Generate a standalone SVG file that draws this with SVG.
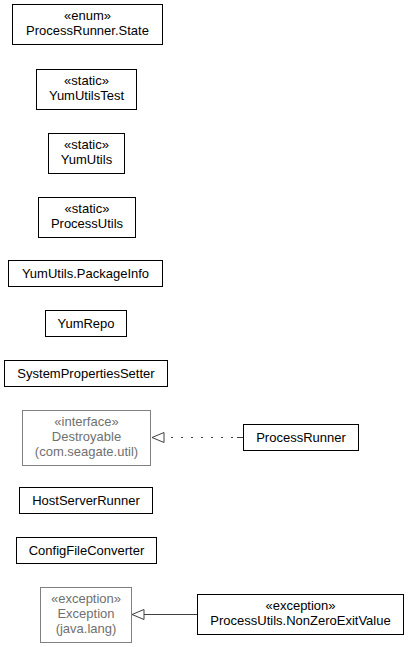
<svg xmlns="http://www.w3.org/2000/svg" width="411" height="647" viewBox="0 0 411 647">
<style>
.n rect{fill:#fff;stroke:#000;stroke-width:1}
.g rect{fill:#fff;stroke:#808080;stroke-width:1}
text{font-family:"Liberation Sans",Arial,sans-serif;font-size:13px;text-anchor:middle;fill:#000}
.g text{fill:#707070}
.c line{stroke:#404040;stroke-width:1;fill:none}
</style>
<defs>
<marker id="tri" markerWidth="14" markerHeight="12" refX="13" refY="6" orient="auto" markerUnits="userSpaceOnUse">
<path d="M1,1 L13,6 L1,11 Z" fill="#fff" stroke="#404040" stroke-width="1"/>
</marker>
</defs>
<g id="ProcessRunner.State" class="n"><rect x="12.5" y="4.5" width="150" height="40"/><text x="87.5" y="20">«enum»</text><text x="87.5" y="35">ProcessRunner.State</text></g>
<g id="YumUtilsTest" class="n"><rect x="36.5" y="69.5" width="100" height="40"/><text x="86.5" y="85">«static»</text><text x="86.5" y="100">YumUtilsTest</text></g>
<g id="YumUtils" class="n"><rect x="48.5" y="133.5" width="76" height="40"/><text x="86.5" y="149">«static»</text><text x="86.5" y="164">YumUtils</text></g>
<g id="ProcessUtils" class="n"><rect x="38.5" y="197.5" width="97" height="40"/><text x="87" y="213">«static»</text><text x="87" y="228">ProcessUtils</text></g>
<g id="YumUtils.PackageInfo" class="n"><rect x="8.5" y="260.5" width="154" height="26"/><text x="85.5" y="278">YumUtils.PackageInfo</text></g>
<g id="YumRepo" class="n"><rect x="45.5" y="310.5" width="81" height="26"/><text x="86" y="328">YumRepo</text></g>
<g id="SystemPropertiesSetter" class="n"><rect x="4.5" y="360.5" width="163" height="26"/><text x="86" y="378">SystemPropertiesSetter</text></g>
<g id="Destroyable" class="g"><rect x="22.5" y="410.5" width="128" height="55"/><text x="86.5" y="425.5">«interface»</text><text x="86.5" y="440.5">Destroyable</text><text x="86.5" y="455.5">(com.seagate.util)</text></g>
<g id="ProcessRunner" class="n"><rect x="243.5" y="424.5" width="115" height="26"/><text x="301" y="442">ProcessRunner</text></g>
<g id="HostServerRunner" class="n"><rect x="19.5" y="487.5" width="133" height="26"/><text x="86" y="505">HostServerRunner</text></g>
<g id="ConfigFileConverter" class="n"><rect x="16.5" y="537.5" width="140" height="26"/><text x="86.5" y="555">ConfigFileConverter</text></g>
<g id="Exception" class="g"><rect x="40.5" y="587.5" width="91" height="55"/><text x="86" y="602.5">«exception»</text><text x="86" y="617.5">Exception</text><text x="86" y="632.5">(java.lang)</text></g>
<g id="ProcessUtils.NonZeroExitValue" class="n"><rect x="197.5" y="594.5" width="206" height="40"/><text x="300.5" y="610">«exception»</text><text x="300.5" y="625">ProcessUtils.NonZeroExitValue</text></g>
<g id="connectors" class="c">
<line x1="243" y1="437.5" x2="152" y2="437.5" stroke-dasharray="6,4,2,8,2,8,2,8,2,8,2,8,2,8,2,8,2,8,2,8" marker-end="url(#tri)"/>
<line x1="197" y1="614.5" x2="132" y2="614.5" marker-end="url(#tri)"/>
</g>
</svg>
